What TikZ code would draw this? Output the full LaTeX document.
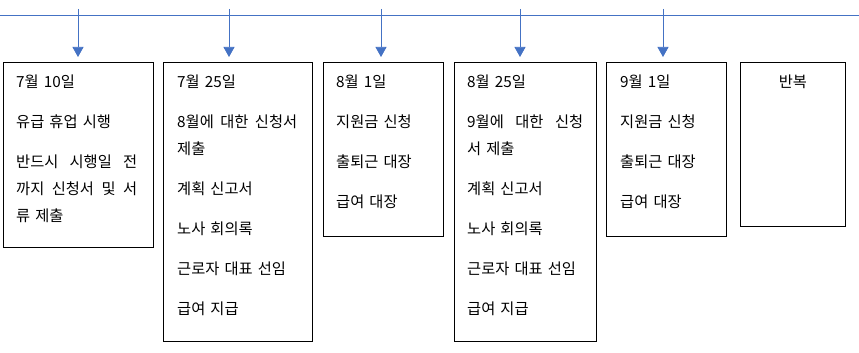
\documentclass[tikz,border=0pt]{standalone}
\usepackage{fontspec}
\setmainfont[WordSpace=1.5]{Noto Sans CJK KR}
\usepackage{tikz}
\usetikzlibrary{positioning,arrows.meta}
\definecolor{lineblue}{HTML}{4472C4}
\definecolor{ink}     {HTML}{000000}
\tikzset{
  every node/.style={font=\fontsize{15.3pt}{27pt}\selectfont, text=ink},
  % --- nodes
  box/.style   = {draw=ink, line width=0.8pt, anchor=north west, inner sep=0pt},
  txt/.style   = {align=justify, inner sep=0pt, anchor=north west},
  % --- edges
  e/.style     = {-{Triangle[width=11pt,length=10pt]}, line width=0.75pt, draw=lineblue},
}
\begin{document}
\begin{tikzpicture}[x=1pt,y=1pt]
  \useasboundingbox (0,0) rectangle (859,-353);
  % timeline
  \coordinate (tl) at (0,-15);
  \coordinate (tr) at (859,-15);
  \draw[line width=0.75pt, draw=lineblue] (tl) -- (tr);
  % boxes
  \node[box, minimum width=150, minimum height=185] (b1) at (3,-62) {};
  \node[box, minimum width=149, minimum height=279] (b2) at (163,-62) {};
  \node[box, minimum width=120, minimum height=174] (b3) at (323,-62) {};
  \node[box, minimum width=142, minimum height=279] (b4) at (454,-62) {};
  \node[box, minimum width=120, minimum height=174] (b5) at (606,-62) {};
  \node[box, minimum width=105, minimum height=164] (b6) at (740,-62) {};
  % box texts
  \node[txt, text width=121pt, below right=13pt and 13pt of b1.north west] (b1t)
    {7월 10일\\[13pt]유급 휴업 시행\\[13pt]반드시 시행일 전\linebreak
     까지 신청서 및 서\linebreak 류 제출};
  \node[txt, text width=120pt, below right=13pt and 14pt of b2.north west] (b2t)
    {7월 25일\\[13pt]8월에 대한 신청서\linebreak 제출\\[13pt]계획 신고서\\[13pt]노사 회의록\\[13pt]근로자 대표 선임\\[13pt]급여 지급};
  \node[txt, text width=100pt, below right=13pt and 13pt of b3.north west] (b3t)
    {8월 1일\\[13pt]지원금 신청\\[13pt]출퇴근 대장\\[13pt]급여 대장};
  \node[txt, text width=116pt, below right=13pt and 13pt of b4.north west] (b4t)
    {8월 25일\\[13pt]9월에 대한 신청\linebreak 서 제출\\[13pt]계획 신고서\\[13pt]노사 회의록\\[13pt]근로자 대표 선임\\[13pt]급여 지급};
  \node[txt, text width=100pt, below right=13pt and 14pt of b5.north west] (b5t)
    {9월 1일\\[13pt]지원금 신청\\[13pt]출퇴근 대장\\[13pt]급여 대장};
  \node[inner sep=0pt, anchor=north, below=13pt of b6.north] (b6t) {반복};
  % arrows
  \foreach \x/\b in {78/b1, 229/b2, 381/b3, 520/b4, 663/b5}
    \draw[e, shorten >=5pt] (\x,-9) -- (\x,-9 |- \b.north);
\end{tikzpicture}
\end{document}
